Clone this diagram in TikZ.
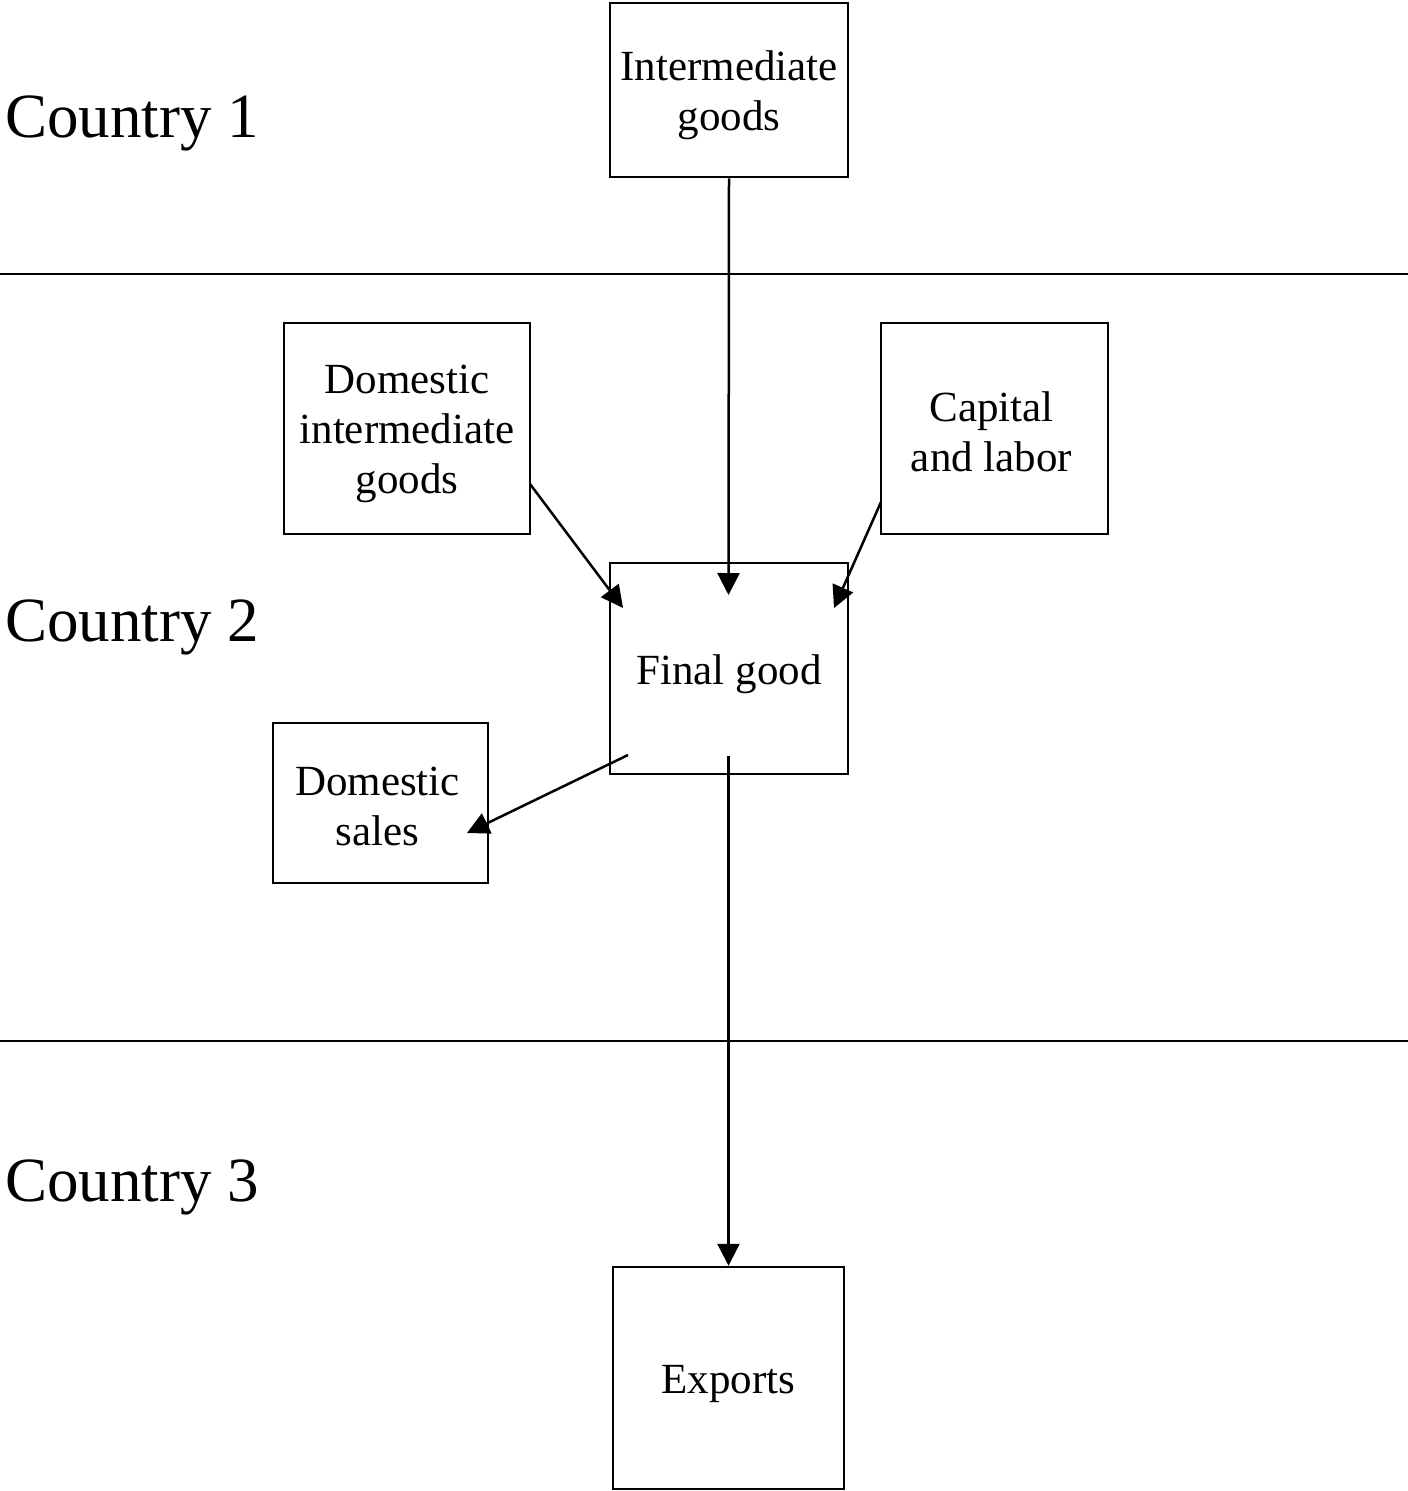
\documentclass[tikz,border=0pt]{standalone}
\usepackage{fontspec}
\setmainfont{Liberation Serif}
\usetikzlibrary{arrows.meta}
\begin{document}
\begin{tikzpicture}[x=1pt,y=-1pt,
 box/.style={draw,line width=2.5pt,inner sep=0pt},
 txt/.style={inner sep=0pt,align=center,font=\fontsize{43}{50}\selectfont},
 conn/.style={line width=2.5pt,-{Triangle[length=22pt,width=22pt]}},
 sep/.style={line width=2.5pt},
 country/.style={anchor=base west,inner sep=0pt,font=\fontsize{63}{70}\selectfont}]
\useasboundingbox (0,0) rectangle (1408,1491);
% separators
\coordinate (l1a) at (0,274);
\coordinate (l1b) at (1408,274);
\coordinate (l2a) at (0,1041);
\coordinate (l2b) at (1408,1041);
\draw[sep] (l1a) -- (l1b);
\draw[sep] (l2a) -- (l2b);
% country labels
\node[country] (c1) at (5,137) {Country 1};
\node[country] (c2) at (5,641) {Country 2};
\node[country] (c3) at (5,1201) {Country 3};
% boxes
\node[box,minimum width=238pt,minimum height=174pt] (inter) at (729,90) {};
\node[box,minimum width=246pt,minimum height=211pt] (dom) at (407,428.5) {};
\node[box,minimum width=227pt,minimum height=211pt] (cap) at (994.5,428.5) {};
\node[box,minimum width=238pt,minimum height=211pt] (final) at (729,668.5) {};
\node[box,minimum width=215pt,minimum height=160pt] (sales) at (380.5,803) {};
\node[box,minimum width=231pt,minimum height=222pt] (exp) at (728.5,1378) {};
% box texts
\node[txt] (intert) at ([yshift=-5pt]inter.center) {Intermediate\\goods};
\node[txt] (domt) at ([yshift=-5pt]dom.center) {Domestic\\intermediate\\goods};
\node[txt] (capt) at ([xshift=-3pt,yshift=-3pt]cap.center) {Capital\\and labor};
\node[txt] (finalt) at ([yshift=-6pt]final.center) {Final good};
\node[txt] (salest) at ([xshift=-3pt,yshift=-3pt]sales.center) {Domestic\\sales};
\node[txt] (expt) at ([yshift=-6pt]exp.center) {Exports};
% connector end points
\coordinate (t1) at (728.5,595);
\coordinate (s2) at (530,484);
\coordinate (t2) at (623,608);
\coordinate (s3) at (881,502);
\coordinate (t3) at (834,608);
\coordinate (s4) at (628,755);
\coordinate (t4) at (467,833);
\coordinate (s5) at (728.5,756);
% connectors
\draw[conn] (inter.south) -- (t1);
\draw[conn] (s2) -- (t2);
\draw[conn] (s3) -- (t3);
\draw[conn] (s4) -- (t4);
\draw[conn] (s5) -- (exp.north);
\end{tikzpicture}
\end{document}
